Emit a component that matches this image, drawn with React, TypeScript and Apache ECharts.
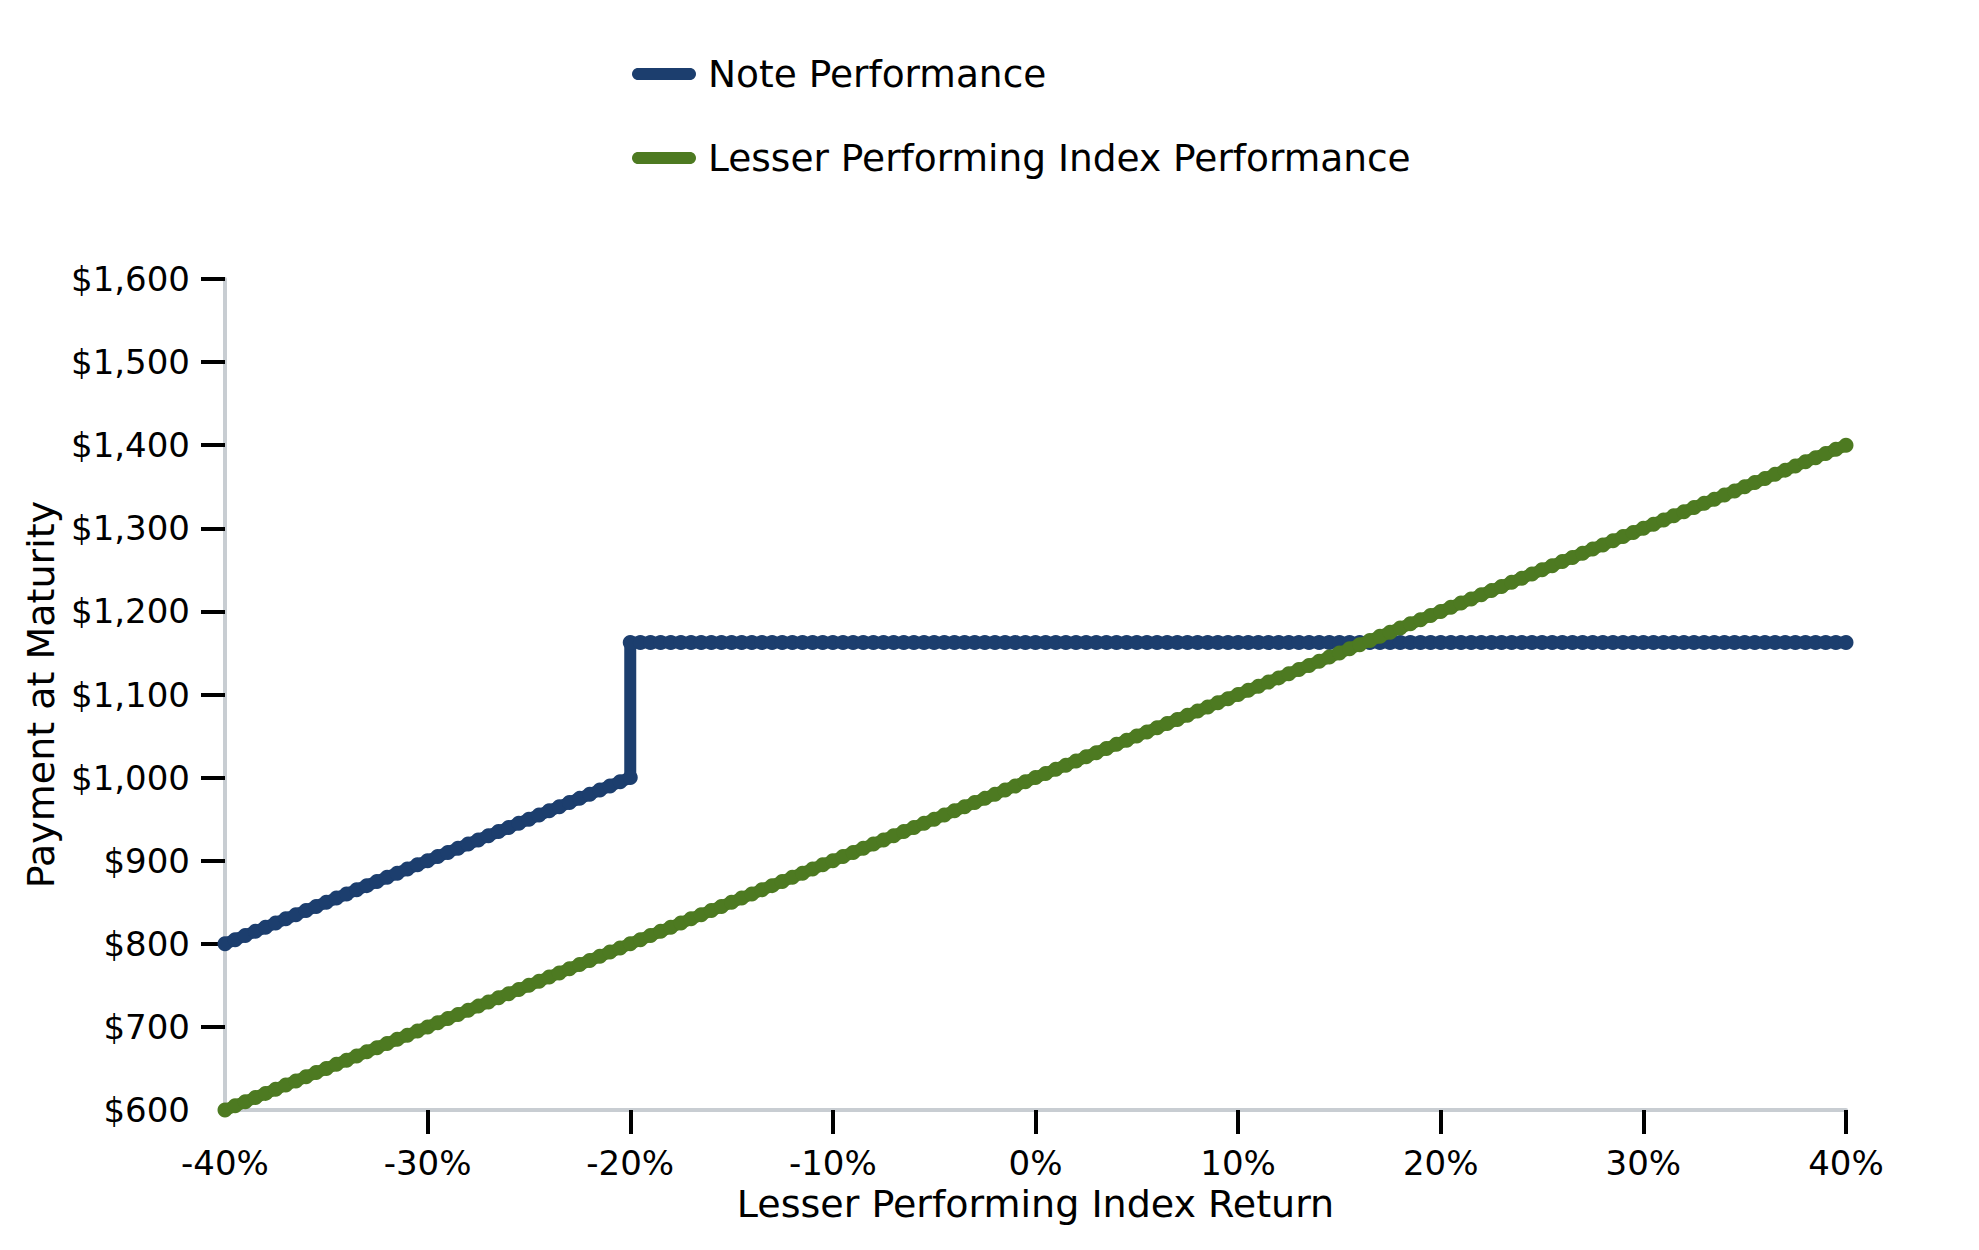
import React, { useEffect, useRef } from "react";
import * as echarts from "echarts";

// Lesser performing index return (%)
const returns = [
  -40, -39.5, -39, -38.5, -38, -37.5, -37, -36.5, -36, -35.5, -35, -34.5, -34, -33.5, -33, -32.5, -32, -31.5, -31, -30.5,
  -30, -29.5, -29, -28.5, -28, -27.5, -27, -26.5, -26, -25.5, -25, -24.5, -24, -23.5, -23, -22.5, -22, -21.5, -21, -20.5,
  -20, -19.5, -19, -18.5, -18, -17.5, -17, -16.5, -16, -15.5, -15, -14.5, -14, -13.5, -13, -12.5, -12, -11.5, -11, -10.5,
  -10, -9.5, -9, -8.5, -8, -7.5, -7, -6.5, -6, -5.5, -5, -4.5, -4, -3.5, -3, -2.5, -2, -1.5, -1, -0.5,
  0, 0.5, 1, 1.5, 2, 2.5, 3, 3.5, 4, 4.5, 5, 5.5, 6, 6.5, 7, 7.5, 8, 8.5, 9, 9.5,
  10, 10.5, 11, 11.5, 12, 12.5, 13, 13.5, 14, 14.5, 15, 15.5, 16, 16.5, 17, 17.5, 18, 18.5, 19, 19.5,
  20, 20.5, 21, 21.5, 22, 22.5, 23, 23.5, 24, 24.5, 25, 25.5, 26, 26.5, 27, 27.5, 28, 28.5, 29, 29.5,
  30, 30.5, 31, 31.5, 32, 32.5, 33, 33.5, 34, 34.5, 35, 35.5, 36, 36.5, 37, 37.5, 38, 38.5, 39, 39.5,
  40,
];

// Lesser Performing Index Performance ($)
const indexPerformance = [
  600, 605, 610, 615, 620, 625, 630, 635, 640, 645, 650, 655, 660, 665, 670, 675, 680, 685, 690, 695,
  700, 705, 710, 715, 720, 725, 730, 735, 740, 745, 750, 755, 760, 765, 770, 775, 780, 785, 790, 795,
  800, 805, 810, 815, 820, 825, 830, 835, 840, 845, 850, 855, 860, 865, 870, 875, 880, 885, 890, 895,
  900, 905, 910, 915, 920, 925, 930, 935, 940, 945, 950, 955, 960, 965, 970, 975, 980, 985, 990, 995,
  1000, 1005, 1010, 1015, 1020, 1025, 1030, 1035, 1040, 1045, 1050, 1055, 1060, 1065, 1070, 1075, 1080, 1085, 1090, 1095,
  1100, 1105, 1110, 1115, 1120, 1125, 1130, 1135, 1140, 1145, 1150, 1155, 1160, 1165, 1170, 1175, 1180, 1185, 1190, 1195,
  1200, 1205, 1210, 1215, 1220, 1225, 1230, 1235, 1240, 1245, 1250, 1255, 1260, 1265, 1270, 1275, 1280, 1285, 1290, 1295,
  1300, 1305, 1310, 1315, 1320, 1325, 1330, 1335, 1340, 1345, 1350, 1355, 1360, 1365, 1370, 1375, 1380, 1385, 1390, 1395,
  1400,
];

// Note Performance ($)
const notePerformance = [
  800, 805, 810, 815, 820, 825, 830, 835, 840, 845, 850, 855, 860, 865, 870, 875, 880, 885, 890, 895,
  900, 905, 910, 915, 920, 925, 930, 935, 940, 945, 950, 955, 960, 965, 970, 975, 980, 985, 990, 995,
  1000, 1162.5, 1162.5, 1162.5, 1162.5, 1162.5, 1162.5, 1162.5, 1162.5, 1162.5, 1162.5, 1162.5, 1162.5, 1162.5, 1162.5, 1162.5, 1162.5, 1162.5, 1162.5, 1162.5,
  1162.5, 1162.5, 1162.5, 1162.5, 1162.5, 1162.5, 1162.5, 1162.5, 1162.5, 1162.5, 1162.5, 1162.5, 1162.5, 1162.5, 1162.5, 1162.5, 1162.5, 1162.5, 1162.5, 1162.5,
  1162.5, 1162.5, 1162.5, 1162.5, 1162.5, 1162.5, 1162.5, 1162.5, 1162.5, 1162.5, 1162.5, 1162.5, 1162.5, 1162.5, 1162.5, 1162.5, 1162.5, 1162.5, 1162.5, 1162.5,
  1162.5, 1162.5, 1162.5, 1162.5, 1162.5, 1162.5, 1162.5, 1162.5, 1162.5, 1162.5, 1162.5, 1162.5, 1162.5, 1162.5, 1162.5, 1162.5, 1162.5, 1162.5, 1162.5, 1162.5,
  1162.5, 1162.5, 1162.5, 1162.5, 1162.5, 1162.5, 1162.5, 1162.5, 1162.5, 1162.5, 1162.5, 1162.5, 1162.5, 1162.5, 1162.5, 1162.5, 1162.5, 1162.5, 1162.5, 1162.5,
  1162.5, 1162.5, 1162.5, 1162.5, 1162.5, 1162.5, 1162.5, 1162.5, 1162.5, 1162.5, 1162.5, 1162.5, 1162.5, 1162.5, 1162.5, 1162.5, 1162.5, 1162.5, 1162.5, 1162.5,
  1162.5,
];

// vertical jump of the note payoff at the barrier
const stepReturn = -20;
const stepFrom = 1000;
const stepTo = 1162.5;

const xTicks = [-30, -20, -10, 0, 10, 20, 30, 40];
const yTicks = [700, 800, 900, 1000, 1100, 1200, 1300, 1400, 1500, 1600];

const seriesNames = ["Note Performance", "Lesser Performing Index Performance"];
const BLUE = "#1c3e6e";
const GREEN = "#4d7a21";
const FONT = "DejaVu Sans";
const PILL = "path://M6,0L58,0C61.3,0 64,2.7 64,6C64,9.3 61.3,12 58,12L6,12C2.7,12 0,9.3 0,6C0,2.7 2.7,0 6,0Z";

export default function App() {
  const ref = useRef<HTMLDivElement>(null);

  useEffect(() => {
    if (!ref.current) return;
    const chart = echarts.init(ref.current, null, { renderer: "svg" });

    const noteData: number[][] = [];
    returns.forEach((r, i) => {
      noteData.push([r, notePerformance[i]]);
      if (r === stepReturn && notePerformance[i] === stepFrom) noteData.push([r, stepTo]);
    });
    const indexData = returns.map((r, i) => [r, indexPerformance[i]]);

    chart.setOption({
      animation: false,
      backgroundColor: "#ffffff",
      textStyle: { fontFamily: FONT, color: "#000" },
      legend: {
        orient: "vertical",
        left: 627,
        top: 49,
        itemWidth: 64,
        itemHeight: 12,
        itemGap: 44,
        icon: PILL,
        data: seriesNames,
        textStyle: {
          fontFamily: FONT,
          fontSize: 37.5,
          color: "#000",
          lineHeight: 40,
          padding: [0, 0, 0, 7],
        },
      },
      grid: { left: 225, right: 133, top: 279, bottom: 140, containLabel: false },
      xAxis: {
        type: "value",
        min: -40,
        max: 40,
        interval: 10,
        name: "Lesser Performing Index Return",
        nameLocation: "middle",
        nameGap: 75,
        nameTextStyle: { fontFamily: FONT, fontSize: 38, color: "#000" },
        axisLine: { show: true, onZero: false, lineStyle: { color: "#c8cdd2", width: 4 } },
        axisTick: { show: true, length: 24, customValues: xTicks, lineStyle: { color: "#000", width: 4 } },
        axisLabel: {
          margin: 36,
          fontFamily: FONT,
          fontSize: 34,
          color: "#000",
          formatter: (v: number) => `${v}%`,
        },
        splitLine: { show: false },
      },
      yAxis: {
        type: "value",
        min: 600,
        max: 1600,
        interval: 100,
        name: "Payment at Maturity",
        nameLocation: "middle",
        nameRotate: 90,
        nameGap: 160,
        nameTextStyle: { fontFamily: FONT, fontSize: 38, color: "#000" },
        axisLine: { show: true, onZero: false, lineStyle: { color: "#c8cdd2", width: 4 } },
        axisTick: { show: true, length: 24, customValues: yTicks, lineStyle: { color: "#000", width: 4 } },
        axisLabel: {
          margin: 35,
          fontFamily: FONT,
          fontSize: 34,
          color: "#000",
          formatter: (v: number) => `$${v.toLocaleString("en-US")}`,
        },
        splitLine: { show: false },
      },
      series: [
        {
          name: seriesNames[0],
          type: "line",
          data: noteData,
          color: BLUE,
          clip: false,
          symbol: "circle",
          symbolSize: 15,
          showSymbol: true,
          lineStyle: { color: BLUE, width: 12, cap: "round", join: "round" },
          itemStyle: { color: BLUE },
          z: 3,
        },
        {
          name: seriesNames[1],
          type: "line",
          data: indexData,
          color: GREEN,
          clip: false,
          symbol: "circle",
          symbolSize: 15,
          showSymbol: true,
          lineStyle: { color: GREEN, width: 12, cap: "round", join: "round" },
          itemStyle: { color: GREEN },
          z: 4,
        },
      ],
    });

    return () => chart.dispose();
  }, []);

  return (
    <div
      ref={ref}
      style={{ position: "fixed", left: 0, top: 0, width: 1979, height: 1250, background: "#fff" }}
    />
  );
}
